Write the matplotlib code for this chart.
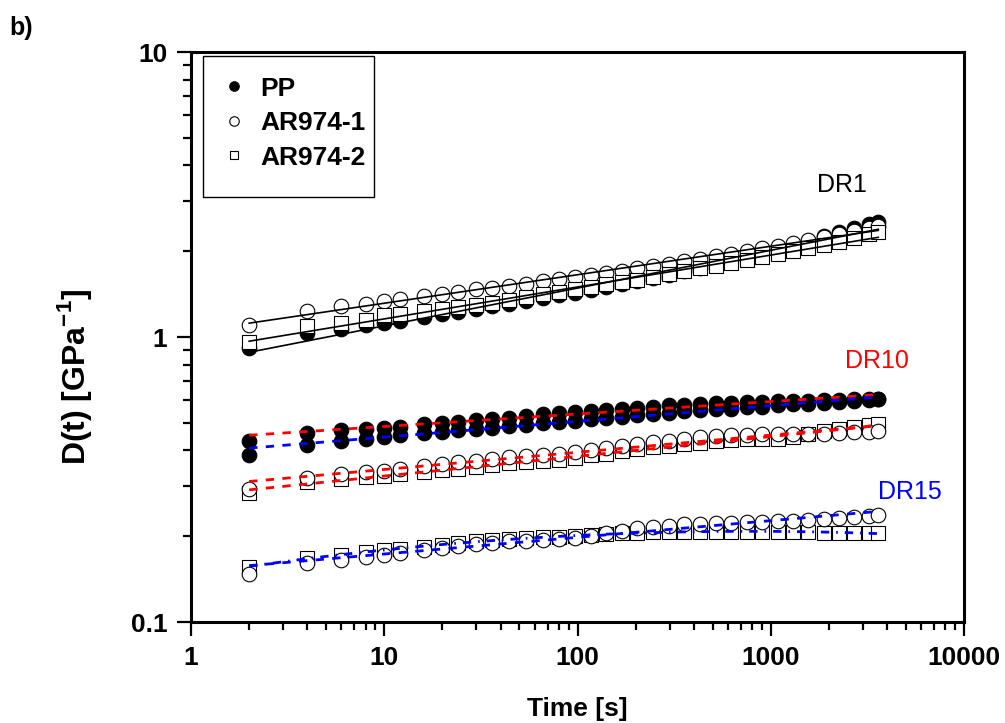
import matplotlib
matplotlib.use('agg')
import matplotlib.pyplot as plt
from matplotlib.patches import Rectangle
from matplotlib.ticker import FixedLocator, FixedFormatter, LogLocator, NullFormatter
import numpy as np

plt.rcParams['font.family'] = ['Liberation Sans', 'DejaVu Sans']
plt.rcParams['mathtext.fontset'] = 'custom'
plt.rcParams['mathtext.rm'] = 'Liberation Sans'
plt.rcParams['mathtext.bf'] = 'Liberation Sans:bold'

# creep compliance data
time_s = [2, 4, 6, 8, 10, 12, 16, 20, 24, 30, 36, 44, 54, 66, 80, 97, 117, 141, 169, 204,
          247, 297, 357, 430, 519, 622, 751, 904, 1086, 1309, 1565, 1888, 2264, 2698, 3236, 3600]

pp_dr1 = [0.913, 1.03, 1.07, 1.10, 1.12, 1.14, 1.18, 1.20, 1.22, 1.25, 1.28, 1.31, 1.34, 1.37,
          1.40, 1.43, 1.46, 1.50, 1.53, 1.57, 1.61, 1.65, 1.70, 1.75, 1.80, 1.86, 1.92, 1.98,
          2.04, 2.11, 2.18, 2.26, 2.34, 2.42, 2.50, 2.54]
ar1_dr1 = [1.10, 1.23, 1.28, 1.31, 1.34, 1.36, 1.39, 1.42, 1.44, 1.47, 1.49, 1.51, 1.54, 1.57,
           1.60, 1.62, 1.65, 1.68, 1.71, 1.75, 1.78, 1.81, 1.85, 1.88, 1.92, 1.96, 2.00, 2.05,
           2.09, 2.14, 2.19, 2.24, 2.30, 2.36, 2.42, 2.46]
ar2_dr1 = [0.96, 1.09, 1.12, 1.15, 1.19, 1.20, 1.23, 1.25, 1.27, 1.30, 1.32, 1.35, 1.38, 1.41,
           1.44, 1.47, 1.50, 1.53, 1.56, 1.59, 1.63, 1.66, 1.70, 1.74, 1.78, 1.82, 1.86, 1.91,
           1.95, 2.00, 2.05, 2.10, 2.16, 2.22, 2.29, 2.34]

pp_dr10 = [0.43, 0.46, 0.47, 0.475, 0.48, 0.485, 0.495, 0.50, 0.505, 0.51, 0.515, 0.52, 0.53,
           0.535, 0.54, 0.545, 0.55, 0.555, 0.56, 0.565, 0.57, 0.575, 0.578, 0.582, 0.585,
           0.588, 0.59, 0.592, 0.594, 0.596, 0.598, 0.60, 0.602, 0.604, 0.606, 0.607]
ar1_dr10 = [0.293, 0.319, 0.33, 0.335, 0.339, 0.345, 0.352, 0.358, 0.363, 0.368, 0.373, 0.378,
            0.383, 0.387, 0.39, 0.396, 0.402, 0.408, 0.414, 0.42, 0.427, 0.433, 0.439, 0.444,
            0.449, 0.452, 0.454, 0.455, 0.456, 0.456, 0.456, 0.457, 0.46, 0.464, 0.466, 0.467]
ar2_dr10 = [0.284, 0.311, 0.318, 0.322, 0.325, 0.33, 0.336, 0.341, 0.345, 0.35, 0.355, 0.36,
            0.365, 0.368, 0.37, 0.377, 0.384, 0.39, 0.397, 0.404, 0.41, 0.416, 0.421, 0.426,
            0.43, 0.434, 0.437, 0.439, 0.44, 0.445, 0.455, 0.467, 0.476, 0.484, 0.49, 0.494]

pp_dr15 = [0.385, 0.418, 0.43, 0.44, 0.447, 0.452, 0.46, 0.466, 0.47, 0.476, 0.481, 0.487,
           0.493, 0.498, 0.503, 0.508, 0.514, 0.52, 0.526, 0.532, 0.538, 0.543, 0.548, 0.553,
           0.557, 0.561, 0.566, 0.57, 0.575, 0.58, 0.584, 0.588, 0.593, 0.598, 0.603, 0.606]
ar1_dr15 = [0.147, 0.161, 0.165, 0.169, 0.172, 0.175, 0.179, 0.182, 0.185, 0.188, 0.19, 0.192,
            0.193, 0.194, 0.195, 0.197, 0.201, 0.205, 0.209, 0.213, 0.216, 0.218, 0.22, 0.221,
            0.222, 0.223, 0.224, 0.225, 0.226, 0.227, 0.228, 0.23, 0.232, 0.234, 0.236, 0.237]
ar2_dr15 = [0.156, 0.168, 0.172, 0.176, 0.179, 0.181, 0.184, 0.187, 0.189, 0.192, 0.194, 0.196,
            0.197, 0.198, 0.199, 0.20, 0.202, 0.204, 0.205, 0.206, 0.207, 0.207, 0.207, 0.207,
            0.207, 0.207, 0.207, 0.207, 0.207, 0.207, 0.207, 0.206, 0.206, 0.206, 0.206, 0.206]

x_ticks = [1, 10, 100, 1000, 10000]
x_labels = ['1', '10', '100', '1000', '10000']
y_ticks = [0.1, 1, 10]
y_labels = ['0.1', '1', '10']

t = np.array(time_s)


def fit_line(ax, y, deg, **kw):
    # power-law (or curved) fit in log-log space
    c = np.polyfit(np.log10(t), np.log10(y), deg)
    ax.plot(t, 10 ** np.polyval(c, np.log10(t)), zorder=5, **kw)


fig = plt.figure(figsize=(10.05, 7.23), dpi=100)
ax = fig.add_axes([191 / 1005, 1 - 622 / 723, 773 / 1005, 570 / 723])

ms_c = 10.5
ms_s = 9.5
mew = 0.8
h_pp, = ax.plot(t, pp_dr1, 'o', ms=ms_c, mfc='black', mec='black', mew=mew, ls='none')
h_a1, = ax.plot(t, ar1_dr1, 'o', ms=ms_c, mfc='white', mec='black', mew=mew, ls='none')
h_a2, = ax.plot(t, ar2_dr1, 's', ms=ms_s, mfc='white', mec='black', mew=mew, ls='none')

for pp, a1, a2 in [(pp_dr10, ar1_dr10, ar2_dr10), (pp_dr15, ar1_dr15, ar2_dr15)]:
    ax.plot(t, pp, 'o', ms=ms_c, mfc='black', mec='black', mew=mew, ls='none')
    ax.plot(t, a2, 's', ms=ms_s, mfc='white', mec='black', mew=mew, ls='none')
    ax.plot(t, a1, 'o', ms=ms_c, mfc='white', mec='black', mew=mew, ls='none')

for y in [pp_dr1, ar1_dr1, ar2_dr1]:
    fit_line(ax, y, 1, color='black', lw=1.2)

for y in [pp_dr10, ar1_dr10, ar2_dr10]:
    fit_line(ax, y, 1, color='red', lw=2, dashes=(3, 3))
fit_line(ax, pp_dr15, 1, color='blue', lw=2, dashes=(3, 3))
fit_line(ax, ar1_dr15, 1, color='blue', lw=2, dashes=(3, 3))
fit_line(ax, ar2_dr15, 2, color='blue', lw=2, dashes=(3, 2.5, 0.6, 2.5))

ax.set_xscale('log')
ax.set_yscale('log')
ax.set_xlim(1, 10000)
ax.set_ylim(0.1, 10)

ax.xaxis.set_major_locator(FixedLocator(x_ticks))
ax.xaxis.set_major_formatter(FixedFormatter(x_labels))
ax.yaxis.set_major_locator(FixedLocator(y_ticks))
ax.yaxis.set_major_formatter(FixedFormatter(y_labels))
ax.xaxis.set_minor_locator(LogLocator(base=10, subs=range(2, 10)))
ax.yaxis.set_minor_locator(LogLocator(base=10, subs=range(2, 10)))
ax.xaxis.set_minor_formatter(NullFormatter())
ax.yaxis.set_minor_formatter(NullFormatter())

ax.tick_params(which='major', direction='out', length=10, width=1.6, labelsize=19, pad=7,
               top=False, right=False)
ax.tick_params(which='minor', direction='out', length=6, width=1.6, top=False, right=False)
for lab in ax.get_xticklabels() + ax.get_yticklabels():
    lab.set_fontweight('bold')
for s in ax.spines.values():
    s.set_linewidth(2.2)

ax.set_xlabel('Time [s]', fontsize=19, fontweight='bold', labelpad=20)
ax.set_ylabel('D(t) [GPa$^{\\mathbf{-1}}$]', fontsize=23, fontweight='bold')
ax.yaxis.set_label_coords(-0.126, 0.43)

ax.text(2340, 3.42, 'DR1', fontsize=18, color='black', ha='center', va='center')
ax.text(3550, 0.824, 'DR10', fontsize=18, color='red', ha='center', va='center')
ax.text(5260, 0.286, 'DR15', fontsize=18, color='blue', ha='center', va='center')
fig.text(21 / 1005, 1 - 28 / 723, 'b)', fontsize=18, fontweight='bold', ha='center', va='center')

# legend box drawn separately, entries placed inside it
ax.add_patch(Rectangle((0.0155, 0.7456), 0.2212, 0.2474, transform=ax.transAxes,
                       fill=False, edgecolor='black', lw=1.0, zorder=6))
leg = ax.legend([h_pp, h_a1, h_a2], ['PP', 'AR974-1', 'AR974-2'], loc='upper left',
                bbox_to_anchor=(0.042, 0.957), fontsize=19, markerscale=0.65,
                frameon=False, labelspacing=0.4, handletextpad=0.6, handlelength=0.8,
                borderpad=0, borderaxespad=0)
for txt in leg.get_texts():
    txt.set_fontweight('bold')

plt.savefig('out.png', dpi=100)
